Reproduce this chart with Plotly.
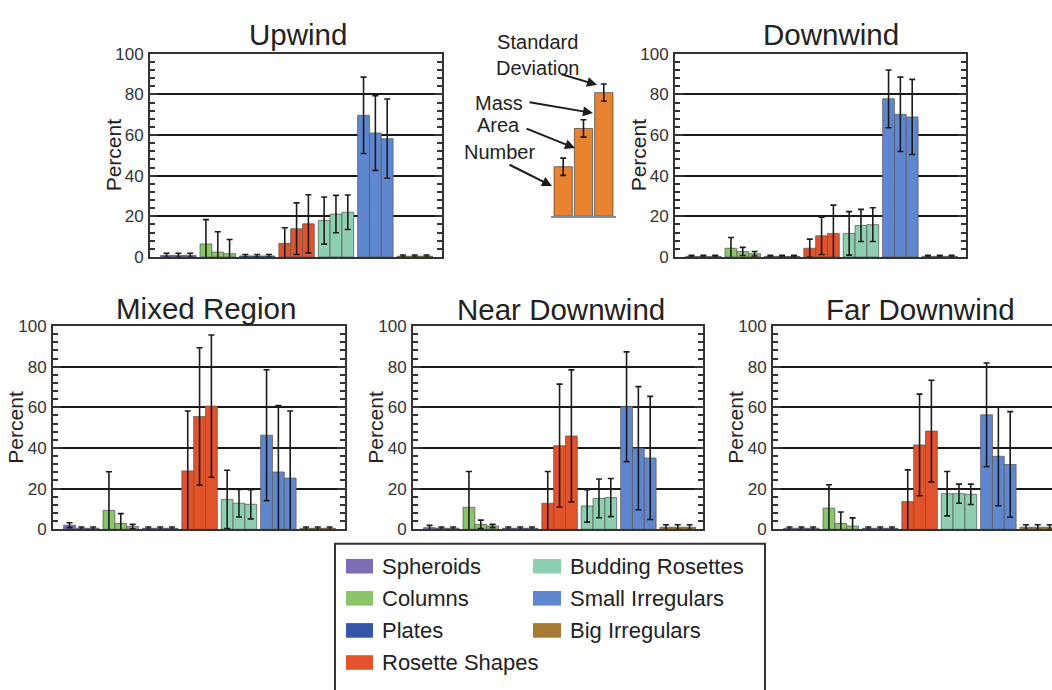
import plotly.graph_objects as go

W, H = 1052, 690
FONT = "Liberation Sans, Arial, Helvetica, sans-serif"

categories = ["Spheroids", "Columns", "Plates", "Rosette Shapes",
              "Budding Rosettes", "Small Irregulars", "Big Irregulars"]
colors = ["#7d6cb4", "#8cc46c", "#3356a8", "#e2532c",
          "#8dcfb0", "#5e87d0", "#a57a32"]
measures = ["Number", "Area", "Mass"]

# Mean percentage of each habit class, by Number / Area / Mass, and standard deviations
upwind_number = [0.8, 6.4, 0.5, 6.7, 17.9, 69.7, 0.4]
upwind_area = [0.8, 2.4, 0.5, 13.9, 21.1, 61.0, 0.4]
upwind_mass = [0.8, 1.6, 0.5, 16.3, 22.0, 58.2, 0.4]
upwind_number_sd = [1.0, 12.0, 0.7, 7.7, 11.6, 18.8, 0.6]
upwind_area_sd = [1.0, 10.0, 0.7, 12.7, 9.2, 18.4, 0.6]
upwind_mass_sd = [1.0, 7.0, 0.7, 14.3, 8.5, 19.5, 0.6]

downwind_number = [0.3, 4.3, 0.3, 4.3, 11.6, 77.8, 0.3]
downwind_area = [0.3, 2.7, 0.3, 10.4, 15.5, 70.2, 0.3]
downwind_mass = [0.3, 1.6, 0.3, 11.6, 15.9, 68.9, 0.3]
downwind_number_sd = [0.5, 5.3, 0.5, 4.5, 10.7, 14.2, 0.5]
downwind_area_sd = [0.5, 2.0, 0.5, 9.2, 7.9, 18.3, 0.5]
downwind_mass_sd = [0.5, 1.1, 0.5, 13.9, 8.3, 18.5, 0.5]

mixed_number = [2.0, 9.3, 0.5, 28.7, 14.7, 46.3, 0.5]
mixed_area = [0.5, 2.9, 0.5, 55.5, 12.8, 28.2, 0.5]
mixed_mass = [0.5, 1.3, 0.5, 60.6, 12.3, 25.2, 0.5]
mixed_number_sd = [1.2, 19.0, 0.6, 29.5, 14.3, 32.2, 0.6]
mixed_area_sd = [0.6, 4.8, 0.6, 33.8, 6.8, 32.7, 0.6]
mixed_mass_sd = [0.6, 1.1, 0.6, 35.0, 7.2, 33.0, 0.6]

near_number = [0.8, 10.8, 0.5, 12.8, 11.5, 60.3, 1.0]
near_area = [0.5, 2.4, 0.5, 41.1, 15.2, 39.9, 1.0]
near_mass = [0.5, 1.6, 0.5, 45.9, 15.6, 35.1, 1.0]
near_number_sd = [1.1, 17.6, 0.6, 15.6, 8.0, 27.0, 1.2]
near_area_sd = [0.6, 2.1, 0.6, 30.3, 9.5, 30.3, 1.2]
near_mass_sd = [0.6, 0.8, 0.6, 32.5, 9.4, 30.3, 1.2]

far_number = [0.5, 10.4, 0.5, 13.6, 17.5, 56.3, 1.0]
far_area = [0.5, 2.9, 0.5, 41.5, 17.5, 35.9, 1.0]
far_mass = [0.5, 1.6, 0.5, 48.3, 17.2, 31.9, 1.0]
far_number_sd = [0.6, 11.5, 0.6, 15.6, 10.9, 25.5, 1.2]
far_area_sd = [0.6, 5.6, 0.6, 25.0, 4.7, 24.3, 1.2]
far_mass_sd = [0.6, 4.0, 0.6, 25.0, 5.0, 26.0, 1.2]

# Key explaining the bar ordering inside each group
inset_values = [40, 71, 100]
inset_sd = [7, 7, 7]
inset_labels = ["Number", "Area", "Mass"]


def fx(p):
    return p / W


def fy(p):
    return 1 - p / H


# name, values, sds, plot box in pixels (left, right, top, bottom), title centre
panels = [
    ("Upwind", [upwind_number, upwind_area, upwind_mass],
     [upwind_number_sd, upwind_area_sd, upwind_mass_sd], (150, 442, 46, 255), (298, 26)),
    ("Downwind", [downwind_number, downwind_area, downwind_mass],
     [downwind_number_sd, downwind_area_sd, downwind_mass_sd], (675, 966, 46, 255), (831, 26)),
    ("Mixed Region", [mixed_number, mixed_area, mixed_mass],
     [mixed_number_sd, mixed_area_sd, mixed_mass_sd], (53, 345, 326, 535), (206, 308)),
    ("Near Downwind", [near_number, near_area, near_mass],
     [near_number_sd, near_area_sd, near_mass_sd], (413, 703, 326, 535), (561, 309)),
    ("Far Downwind", [far_number, far_area, far_mass],
     [far_number_sd, far_area_sd, far_mass_sd], (773, 1052, 326, 535), (920, 309)),
]

fig = go.Figure()
layout = {}
annotations = []
shapes = []

X0 = -0.72          # left end of the category axis
PX_PER_GROUP = 39.4  # horizontal scale of every panel

for i, (name, vals, sds, (l, r, t, b), (tx, ty)) in enumerate(panels, start=1):
    xa = "x" if i == 1 else f"x{i}"
    ya = "y" if i == 1 else f"y{i}"
    for m, v, s in zip(measures, vals, sds):
        fig.add_trace(go.Bar(
            x=categories, y=v, name=m, xaxis=xa, yaxis=ya,
            marker=dict(color=colors, line=dict(color="rgba(90,90,90,0.75)", width=1)),
            error_y=dict(type="data", array=s, color="#1c1c1c", thickness=1.6, width=3),
            showlegend=False,
        ))
    clipped = (r >= W)
    layout["xaxis" if i == 1 else f"xaxis{i}"] = dict(
        domain=[fx(l), fx(r)], anchor=ya, type="category",
        range=[X0, X0 + (r - l) / PX_PER_GROUP],
        showticklabels=False, ticks="", showgrid=False, zeroline=False,
        showline=True, linecolor="#333", linewidth=2, mirror=True,
        fixedrange=True,
    )
    layout["yaxis" if i == 1 else f"yaxis{i}"] = dict(
        domain=[fy(b), fy(t)], anchor=xa, range=[0, 100],
        tickmode="array", tickvals=[0, 20, 40, 60, 80, 100],
        ticks="inside", ticklen=8, tickwidth=2, tickcolor="#333",
        minor=dict(tick0=0, dtick=4, ticks="inside", ticklen=5,
                   tickcolor="#333", tickwidth=1.5, showgrid=False),
        showgrid=True, gridcolor="#1a1a1a", gridwidth=2, zeroline=False,
        showline=True, linecolor="#333", linewidth=2,
        mirror=False if clipped else "ticks",
        tickfont=dict(family=FONT, size=17, color="#333"),
        ticklabelstandoff=1,
        fixedrange=True,
    )
    annotations.append(dict(
        text=name, x=fx(tx), y=fy(ty), xref="paper", yref="paper",
        xanchor="center", yanchor="middle", showarrow=False,
        font=dict(family=FONT, size=29.5, color="#222"),
    ))
    annotations.append(dict(
        text="Percent", x=fx(l - 37), y=fy((t + b) / 2), xref="paper", yref="paper",
        xanchor="center", yanchor="middle", showarrow=False, textangle=-90,
        font=dict(family=FONT, size=21, color="#222"),
    ))

# Inset key: three bars showing Number / Area / Mass order with a standard deviation
fig.add_trace(go.Bar(
    x=inset_labels, y=inset_values, xaxis="x6", yaxis="y6",
    marker=dict(color="#e8832f", line=dict(color="rgba(80,80,80,0.8)", width=1)),
    error_y=dict(type="data", array=inset_sd, color="#1c1c1c", thickness=1.6, width=3),
    showlegend=False,
))
layout["xaxis6"] = dict(
    domain=[fx(551), fx(616)], anchor="y6", type="category", range=[-0.6, 2.6],
    showticklabels=False, ticks="", showgrid=False, zeroline=False,
    showline=True, linecolor="#7d8fa8", linewidth=1.5, fixedrange=True,
)
layout["yaxis6"] = dict(
    domain=[fy(213), fy(213 - 127 * 1.1)], anchor="x6", range=[0, 110],
    visible=False, fixedrange=True,
)

key_font = dict(family=FONT, size=20, color="#222")
for txt, cx, cy, anchor in [("Standard<br>Deviation", 537, 47, "center"),
                            ("Mass", 525, 97, "right"), ("Area", 522, 119, "right"),
                            ("Number", 537, 147, "right")]:
    annotations.append(dict(
        text=txt, x=fx(cx), y=fy(cy), xref="paper", yref="paper",
        xanchor=anchor, yanchor="middle", showarrow=False, font=key_font,
    ))

# arrows: (head x, head y, tail x, tail y) in pixels
for hx, hy, sx, sy in [(597, 78, 560, 67), (593, 107, 528, 96),
                       (575, 143, 525, 123), (552, 182, 508, 160)]:
    annotations.append(dict(
        text="", x=fx(hx), y=fy(hy), xref="paper", yref="paper",
        ax=sx - hx, ay=sy - hy, axref="pixel", ayref="pixel",
        showarrow=True, arrowhead=2, arrowsize=1, arrowwidth=2, arrowcolor="#1c1c1c",
    ))

# Legend drawn as a boxed two-column key
shapes.append(dict(type="rect", xref="paper", yref="paper",
                   x0=fx(335), x1=fx(765), y0=fy(720), y1=fy(550),
                   line=dict(color="#333", width=2), fillcolor="rgba(0,0,0,0)"))
row_y = [573, 606, 639, 672]
for k, (cat, col) in enumerate(zip(categories, colors)):
    column = 0 if k < 4 else 1
    row = k if k < 4 else k - 4
    sx0, sx1, tx = (346, 373, 380) if column == 0 else (533, 561, 568)
    cy = row_y[row]
    shapes.append(dict(type="rect", xref="paper", yref="paper",
                       x0=fx(sx0), x1=fx(sx1), y0=fy(cy + 7.5), y1=fy(cy - 7.5),
                       fillcolor=col, line=dict(width=0)))
    annotations.append(dict(
        text=cat, x=fx(tx), y=fy(cy), xref="paper", yref="paper",
        xanchor="left", yanchor="middle", showarrow=False,
        font=dict(family=FONT, size=22, color="#222"),
    ))

fig.update_layout(
    width=W, height=H, margin=dict(l=0, r=0, t=0, b=0),
    paper_bgcolor="white", plot_bgcolor="white",
    barmode="group", bargap=0.1, bargroupgap=0,
    showlegend=False, annotations=annotations, shapes=shapes,
    font=dict(family=FONT),
    **layout,
)

fig.write_html("out.html", config={"displayModeBar": False})
